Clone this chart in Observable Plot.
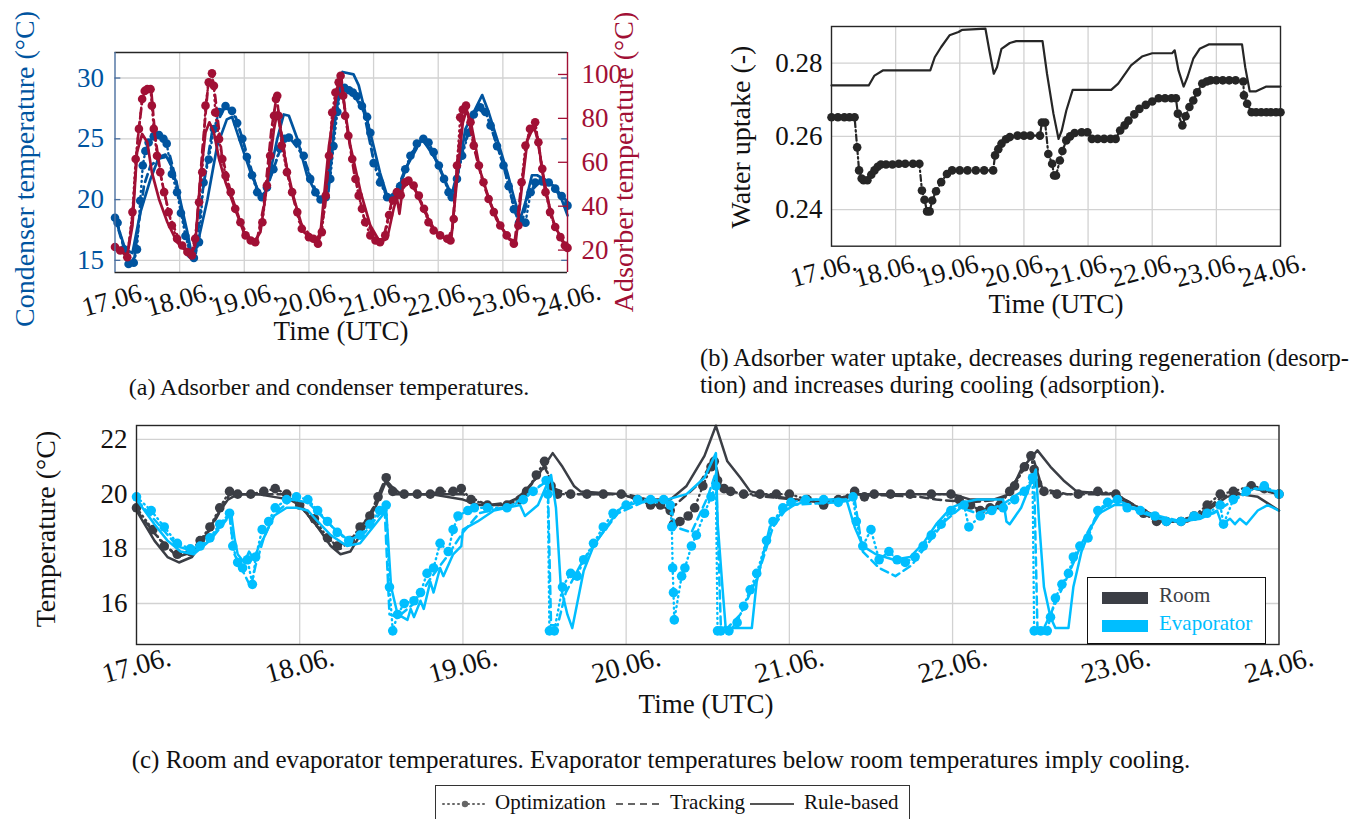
<!DOCTYPE html>
<html>
<head>
<meta charset="utf-8">
<script src="https://cdn.jsdelivr.net/npm/d3@7"></script>
<script src="https://cdn.jsdelivr.net/npm/@observablehq/plot@0.6"></script>
<style>
  html, body { margin: 0; padding: 0; background: #fff; }
  #root { position: relative; width: 1360px; height: 819px; overflow: hidden; font-family: "Liberation Serif", "Times New Roman", serif; color: #111; }
  #root div { font-family: "Liberation Serif", "Times New Roman", serif; }
  #root svg text { font-family: "Liberation Serif", "Times New Roman", serif !important; }
  .abs { position: absolute; }
  .vlab { position: absolute; white-space: nowrap; transform: translate(-50%, -50%) rotate(-90deg); font-size: 28px; }
  .hlab { position: absolute; white-space: nowrap; transform: translate(-50%, -50%); font-size: 27px; }
  .cap { position: absolute; white-space: nowrap; font-size: 24px; }
  svg { overflow: visible; }
</style>
</head>
<body>
<div id="root">
  <div id="pa1" class="abs" style="left:0;top:0"></div>
  <div id="pa2" class="abs" style="left:0;top:0"></div>
  <div id="pb" class="abs" style="left:680px;top:0"></div>
  <div id="pc" class="abs" style="left:0;top:400px"></div>

  <div class="vlab" style="left:25px;top:169px;color:#00549F">Condenser temperature (°C)</div>
  <div class="vlab" style="left:624px;top:162px;color:#A11035">Adsorber temperature (°C)</div>
  <div class="hlab" style="left:341px;top:331px">Time (UTC)</div>
  <div class="vlab" style="left:741px;top:137px">Water uptake (-)</div>
  <div class="hlab" style="left:1056px;top:304px">Time (UTC)</div>
  <div class="vlab" style="left:46px;top:529px">Temperature (°C)</div>
  <div class="hlab" style="left:706px;top:704px">Time (UTC)</div>

  <div class="cap" style="left:329px;top:387px;transform:translate(-50%,-50%)">(a) Adsorber and condenser temperatures.</div>
  <div class="cap" style="left:700px;top:344px;width:646px;font-size:24.5px;text-align:justify;text-align-last:justify">(b) Adsorber water uptake, decreases during regeneration (desorp-</div>
  <div class="cap" style="left:700px;top:371px;font-size:24.5px">tion) and increases during cooling (adsorption).</div>
  <div class="cap" style="left:661px;top:760px;font-size:25px;transform:translate(-50%,-50%)">(c) Room and evaporator temperatures. Evaporator temperatures below room temperatures imply cooling.</div>

  <div class="abs" style="left:1087px;top:577px;width:179px;height:67px;background:#fff;border:1.5px solid #111;box-sizing:border-box;font-size:21px">
    <div class="abs" style="left:14px;top:14px;width:46px;height:12px;background:#3B3E45"></div>
    <div class="abs" style="left:71px;top:5px;color:#3B3E45">Room</div>
    <div class="abs" style="left:14px;top:42px;width:46px;height:12px;background:#00BEFF"></div>
    <div class="abs" style="left:71px;top:33px;color:#00BEFF">Evaporator</div>
  </div>

  <div class="abs" style="left:435px;top:785px;width:475px;height:40px;border:1.5px solid #333;box-sizing:border-box;font-size:21px">
    <svg class="abs" style="left:5px;top:14px" width="48" height="8"><line x1="2" y1="4" x2="46" y2="4" stroke="#666" stroke-width="2" stroke-dasharray="1,4" stroke-linecap="round"/><circle cx="24" cy="4" r="3.2" fill="#666"/></svg>
    <div class="abs" style="left:59px;top:4px">Optimization</div>
    <svg class="abs" style="left:178px;top:14px" width="48" height="8"><line x1="2" y1="4" x2="46" y2="4" stroke="#666" stroke-width="2" stroke-dasharray="7,5"/></svg>
    <div class="abs" style="left:234px;top:4px">Tracking</div>
    <svg class="abs" style="left:312px;top:14px" width="48" height="8"><line x1="2" y1="4" x2="46" y2="4" stroke="#555" stroke-width="2"/></svg>
    <div class="abs" style="left:368px;top:4px">Rule-based</div>
  </div>
</div>
<script>
// ---------- shared ----------
const xTickLabels = ["17.06.", "18.06.", "19.06.", "20.06.", "21.06.", "22.06.", "23.06.", "24.06."];
const dayTicks = [0, 1, 2, 3, 4, 5, 6, 7];
const gridDays = [1, 2, 3, 4, 5, 6];

// ---------- (a) condenser temperature, °C (left axis) ----------
const condTicks = [15, 20, 25, 30];
const condOpt = [[0,18.5],[0.04,18.1],[0.14,15.9],[0.21,14.7],[0.29,14.8],[0.34,15.9],[0.39,19.9],[0.43,22.8],[0.47,24.0],[0.52,24.7],[0.6,25.2],[0.68,25.3],[0.75,25.0],[0.8,24.6],[0.88,22.1],[0.96,20.6],[1.02,18.9],[1.09,17.0],[1.17,15.5],[1.22,15.2],[1.3,16.5],[1.37,21.4],[1.45,23.3],[1.53,25.8],[1.61,27.2],[1.71,27.7],[1.81,27.3],[1.89,26.3],[1.97,25.0],[2.04,23.5],[2.12,22.0],[2.2,20.6],[2.27,20.2],[2.35,21.0],[2.45,22.5],[2.55,24.2],[2.62,25.0],[2.69,25.1],[2.82,24.7],[2.92,23.6],[3.02,21.7],[3.1,20.6],[3.18,20.0],[3.26,20.2],[3.33,21.7],[3.38,24.4],[3.44,27.2],[3.49,29.0],[3.55,29.2],[3.62,29.0],[3.68,28.8],[3.74,28.5],[3.82,27.7],[3.9,26.8],[3.95,25.5],[4.0,23.0],[4.1,21.4],[4.21,20.2],[4.31,20.2],[4.41,21.1],[4.49,22.5],[4.57,23.6],[4.67,24.6],[4.77,25.0],[4.85,24.7],[4.93,23.9],[5.01,22.8],[5.09,21.7],[5.16,20.6],[5.21,20.2],[5.29,21.7],[5.37,23.6],[5.47,25.5],[5.55,27.0],[5.65,27.6],[5.73,27.2],[5.81,26.1],[5.91,24.4],[6.01,22.8],[6.09,21.1],[6.17,19.2],[6.25,18.1],[6.35,18.1],[6.43,20.6],[6.5,21.4],[6.61,21.5],[6.71,21.4],[6.81,20.9],[6.91,20.3],[7.0,19.5]];
const condTrack = [[0,18.5],[0.2,14.9],[0.3,15.2],[0.38,18.5],[0.45,21.2],[0.55,22.8],[0.7,23.4],[0.85,23.6],[0.95,21.5],[1.05,18.5],[1.17,15.4],[1.25,15.6],[1.35,20.5],[1.5,25.5],[1.7,27.6],[1.85,27.1],[2.0,24.5],[2.2,20.8],[2.3,20.2],[2.45,22.5],[2.6,24.8],[2.7,25.1],[2.9,23.7],[3.1,20.8],[3.22,20.0],[3.3,20.5],[3.4,26.5],[3.5,29.5],[3.6,29.0],[3.7,28.6],[3.85,27.2],[4.0,23.2],[4.2,20.3],[4.3,20.1],[4.5,22.6],[4.75,25.0],[5.0,23.0],[5.2,20.2],[5.4,24.5],[5.6,27.5],[5.75,27.0],[6.0,23.0],[6.2,18.8],[6.3,18.2],[6.4,20.5],[6.6,21.6],[6.8,21.0],[7.0,19.8]];
const condRule = [[0,18.5],[0.16,15.9],[0.27,15.6],[0.39,18.9],[0.55,21.7],[0.68,23.5],[0.78,23.7],[0.87,22.8],[0.96,21.1],[1.12,17.3],[1.19,15.4],[1.27,16.2],[1.43,20.0],[1.58,24.4],[1.73,26.6],[1.81,26.8],[1.94,24.7],[2.1,22.2],[2.25,20.3],[2.3,20.0],[2.4,22.2],[2.51,25.0],[2.61,27.0],[2.69,26.9],[2.82,25.0],[2.97,22.0],[3.13,20.3],[3.23,19.8],[3.35,23.5],[3.45,29.0],[3.52,30.5],[3.69,30.3],[3.77,29.4],[3.87,27.2],[4.0,24.4],[4.1,22.2],[4.21,20.3],[4.31,20.0],[4.45,21.8],[4.6,23.9],[4.75,24.9],[4.9,24.0],[5.05,22.2],[5.24,20.0],[5.42,25.8],[5.68,28.6],[5.78,27.2],[5.91,25.0],[6.07,22.2],[6.19,19.8],[6.27,18.4],[6.35,19.8],[6.45,22.0],[6.53,22.0],[6.63,21.7],[6.79,21.1],[6.91,20.0],[7.0,18.7]];

// ---------- (a) adsorber temperature, °C (right axis) ----------
const adsTicks = [20, 40, 60, 80, 100];
const adsOpt = [[0,21.4],[0.08,19.8],[0.19,16.8],[0.27,37.3],[0.32,61.5],[0.37,75.2],[0.42,88.8],[0.46,92.5],[0.5,93.3],[0.55,93.3],[0.57,85.8],[0.6,75.2],[0.65,63.0],[0.7,55.5],[0.76,46.4],[0.83,37.3],[0.88,31.2],[0.96,25.2],[1.04,22.1],[1.12,19.1],[1.19,17.6],[1.24,25.2],[1.3,41.8],[1.35,55.5],[1.4,85.8],[1.45,96.4],[1.5,100.5],[1.53,94.8],[1.55,82.7],[1.61,70.6],[1.66,61.5],[1.71,53.9],[1.79,46.4],[1.86,38.8],[1.94,32.7],[2.02,26.7],[2.1,24.4],[2.17,23.6],[2.28,32.7],[2.35,49.4],[2.4,63.0],[2.46,81.2],[2.49,88.8],[2.51,90.3],[2.53,81.2],[2.58,67.6],[2.66,55.5],[2.74,46.4],[2.82,37.3],[2.89,29.7],[3.0,25.9],[3.07,25.2],[3.14,22.9],[3.2,28.2],[3.26,44.8],[3.31,63.0],[3.36,82.7],[3.41,91.8],[3.46,96.4],[3.49,99.4],[3.53,90.3],[3.56,81.2],[3.61,72.1],[3.67,61.5],[3.72,52.4],[3.77,44.8],[3.82,38.8],[3.87,32.7],[3.95,26.7],[4.03,24.4],[4.1,23.6],[4.18,26.7],[4.24,36.0],[4.3,42.6],[4.36,46.4],[4.42,45.0],[4.49,50.9],[4.54,51.7],[4.62,49.4],[4.7,44.8],[4.78,38.8],[4.85,32.7],[4.93,28.9],[5.03,26.7],[5.14,25.2],[5.19,24.4],[5.24,34.2],[5.29,58.5],[5.34,80.5],[5.38,84.0],[5.43,85.8],[5.5,78.2],[5.55,67.6],[5.63,58.5],[5.7,50.9],[5.78,43.3],[5.86,37.3],[5.96,31.2],[6.06,26.7],[6.17,22.9],[6.24,31.2],[6.29,50.9],[6.35,67.6],[6.42,75.2],[6.5,78.2],[6.55,69.1],[6.61,57.0],[6.66,46.4],[6.73,37.3],[6.81,30.5],[6.89,25.9],[6.96,22.1],[7.0,21.0]];
const adsTrack = [[0,21.4],[0.19,17.0],[0.27,35],[0.35,70],[0.42,88],[0.5,94],[0.56,93],[0.62,72],[0.72,52],[0.85,35],[1.0,24],[1.18,17.5],[1.26,30],[1.35,65],[1.44,95],[1.5,101],[1.55,90],[1.65,64],[1.8,45],[1.95,32],[2.1,24.5],[2.2,25],[2.3,40],[2.42,75],[2.5,90],[2.55,78],[2.68,53],[2.85,33],[3.05,25.5],[3.15,23.5],[3.25,40],[3.36,80],[3.46,97],[3.5,99],[3.58,78],[3.7,55],[3.85,35],[4.05,24.5],[4.15,25],[4.28,42],[4.38,46],[4.5,51],[4.62,49],[4.78,39],[4.95,28.5],[5.15,25],[5.22,30],[5.3,62],[5.38,83],[5.44,85],[5.55,67],[5.7,50],[5.9,34],[6.1,25],[6.18,23],[6.28,48],[6.38,71],[6.5,78],[6.6,58],[6.75,35],[6.95,22]];
const adsRule = [[0,21.4],[0.19,17.6],[0.27,31.2],[0.34,64.5],[0.42,72.9],[0.5,69.1],[0.57,55.5],[0.68,43.3],[0.81,32.7],[0.96,23.6],[1.17,17.6],[1.24,22.1],[1.32,52.4],[1.4,73.6],[1.46,78.2],[1.53,73.6],[1.61,61.5],[1.71,50.9],[1.84,40.3],[1.99,28.2],[2.15,23.6],[2.25,28.2],[2.35,49.4],[2.46,75.2],[2.51,82.7],[2.56,75.2],[2.64,60.0],[2.77,43.3],[2.92,28.2],[3.1,23.6],[3.18,28.2],[3.31,67.6],[3.44,93.3],[3.49,97.9],[3.54,87.3],[3.64,67.6],[3.8,46.4],[3.95,31.2],[4.1,23.6],[4.21,25.2],[4.31,38.8],[4.36,44.0],[4.4,36.5],[4.45,48.0],[4.54,51.0],[4.65,47.0],[4.8,37.0],[4.95,28.5],[5.1,25.5],[5.2,24.5],[5.3,55.0],[5.38,78.0],[5.44,84.0],[5.52,76.0],[5.65,56.0],[5.8,42.0],[5.95,31.5],[6.1,25.0],[6.2,24.0],[6.28,45.0],[6.38,70.0],[6.48,76.5],[6.55,69.0],[6.65,48.0],[6.8,31.0],[7.0,20.5]];

// ---------- (b) water uptake, - ----------
const uptakeTicks = [0.24, 0.26, 0.28];
const uptakeOpt = [[0,0.2652],[0.1,0.2652],[0.2,0.2652],[0.28,0.2652],[0.36,0.2652],[0.4,0.257],[0.43,0.2507],[0.47,0.2485],[0.5,0.248],[0.56,0.248],[0.62,0.2495],[0.67,0.2507],[0.72,0.2517],[0.77,0.2523],[0.85,0.2523],[0.95,0.2523],[1.05,0.2525],[1.15,0.2525],[1.27,0.2525],[1.37,0.2525],[1.41,0.2452],[1.45,0.2427],[1.49,0.2395],[1.53,0.2395],[1.57,0.2425],[1.63,0.245],[1.71,0.2475],[1.8,0.2497],[1.88,0.2507],[2.0,0.2507],[2.12,0.2507],[2.25,0.2507],[2.38,0.2507],[2.52,0.2507],[2.55,0.2548],[2.6,0.2565],[2.65,0.258],[2.72,0.2592],[2.78,0.2598],[2.9,0.2602],[3.0,0.2602],[3.1,0.2602],[3.25,0.2602],[3.28,0.2638],[3.33,0.2638],[3.38,0.2552],[3.44,0.2525],[3.47,0.2493],[3.5,0.2493],[3.56,0.2534],[3.6,0.256],[3.66,0.2589],[3.72,0.26],[3.79,0.2609],[3.9,0.2611],[3.99,0.2611],[4.06,0.2593],[4.15,0.2593],[4.25,0.2593],[4.35,0.2593],[4.43,0.2593],[4.5,0.2616],[4.57,0.263],[4.63,0.2643],[4.72,0.266],[4.8,0.2675],[4.9,0.2686],[5.0,0.2695],[5.1,0.2704],[5.2,0.2704],[5.3,0.2704],[5.37,0.2704],[5.4,0.2662],[5.47,0.263],[5.52,0.2655],[5.58,0.268],[5.64,0.2698],[5.7,0.272],[5.78,0.2744],[5.85,0.275],[5.91,0.2753],[6.0,0.2753],[6.1,0.2753],[6.2,0.2753],[6.3,0.2753],[6.42,0.275],[6.43,0.2712],[6.48,0.2689],[6.55,0.2666],[6.62,0.2666],[6.7,0.2666],[6.78,0.2666],[6.85,0.2666],[6.93,0.2666],[7.0,0.2666]];
const uptakeRule = [[0,0.2739],[0.58,0.2739],[0.67,0.2766],[0.8,0.278],[1.54,0.278],[1.61,0.2816],[1.71,0.2844],[1.84,0.2876],[1.98,0.2885],[2.04,0.2891],[2.4,0.2894],[2.46,0.2835],[2.53,0.2771],[2.58,0.2789],[2.65,0.2839],[2.78,0.2855],[2.88,0.286],[3.29,0.286],[3.36,0.2771],[3.46,0.2662],[3.54,0.2593],[3.59,0.2616],[3.66,0.267],[3.76,0.2727],[4.36,0.2727],[4.47,0.2744],[4.67,0.2794],[4.84,0.2818],[5.0,0.2827],[5.31,0.2827],[5.35,0.2835],[5.41,0.278],[5.49,0.2736],[5.55,0.2762],[5.64,0.2812],[5.74,0.2839],[5.88,0.2851],[6.4,0.2851],[6.45,0.2789],[6.52,0.2723],[6.62,0.2723],[6.78,0.2736],[7,0.2736]];

// ---------- (c) room and evaporator temperature, °C ----------
const tempTicks = [16, 18, 20, 22];
const roomOpt = [[0,19.5],[0.1,18.7],[0.17,18.1],[0.25,17.8],[0.33,17.9],[0.39,18.3],[0.45,18.8],[0.51,19.5],[0.57,20.1],[0.62,20.0],[0.7,20.0],[0.78,20.1],[0.85,20.2],[0.92,20.0],[1.0,19.6],[1.09,19.1],[1.17,18.4],[1.23,18.1],[1.31,18.3],[1.37,18.8],[1.43,19.2],[1.48,19.9],[1.53,20.6],[1.57,20.1],[1.64,20.0],[1.72,20.0],[1.8,20.0],[1.86,20.1],[1.94,20.1],[1.99,20.2],[2.05,19.8],[2.15,19.6],[2.27,19.6],[2.35,19.8],[2.39,20.1],[2.45,20.7],[2.5,21.2],[2.54,20.3],[2.58,20.0],[2.66,20.0],[2.76,20.0],[2.86,20.0],[2.97,20.0],[3.07,19.8],[3.15,19.6],[3.21,19.6],[3.27,19.4],[3.29,18.9],[3.33,19.0],[3.38,19.2],[3.42,19.5],[3.47,20.3],[3.52,21.0],[3.54,21.2],[3.56,20.5],[3.6,20.2],[3.64,20.1],[3.72,20.0],[3.82,20.0],[3.92,20.0],[4.0,20.0],[4.11,19.8],[4.21,19.6],[4.3,19.8],[4.4,20.1],[4.46,19.9],[4.52,20.0],[4.62,20.0],[4.74,20.0],[4.87,20.0],[4.99,20.0],[5.04,19.8],[5.11,19.6],[5.17,19.4],[5.23,19.5],[5.29,19.6],[5.35,20.1],[5.38,20.3],[5.44,21.0],[5.48,21.4],[5.5,20.9],[5.52,20.4],[5.56,20.1],[5.64,20.0],[5.77,20.0],[5.89,20.1],[6.0,20.0],[6.07,19.6],[6.17,19.3],[6.25,19.0],[6.31,19.0],[6.4,19.0],[6.48,19.2],[6.56,19.6],[6.64,20.0],[6.72,20.1],[6.83,20.3],[6.91,20.2],[7.0,20.0]];
const roomTrack = [[0,19.4],[0.12,18.5],[0.25,17.7],[0.35,17.9],[0.45,18.7],[0.57,20.0],[0.75,20.0],[0.9,20.0],[1.0,19.6],[1.15,18.5],[1.25,18.0],[1.35,18.5],[1.45,19.5],[1.52,20.5],[1.58,20.0],[2.0,20.0],[2.15,19.6],[2.3,19.7],[2.4,20.2],[2.5,21.0],[2.56,20.2],[2.65,20.0],[3.0,20.0],[3.2,19.7],[3.3,19.6],[3.45,20.4],[3.54,21.3],[3.58,20.3],[3.7,20.0],[4.2,19.7],[4.4,20.0],[4.8,19.9],[4.9,19.8],[5.1,19.7],[5.3,19.8],[5.45,21.0],[5.5,21.2],[5.55,20.2],[5.7,20.0],[6.0,20.0],[6.2,19.3],[6.35,19.0],[6.5,19.2],[6.65,19.9],[6.85,20.2],[7.0,20.0]];
const roomRule = [[0,19.4],[0.11,18.3],[0.19,17.7],[0.26,17.5],[0.34,17.7],[0.41,18.3],[0.49,19.2],[0.56,19.8],[0.62,20.0],[0.74,20.0],[0.84,19.9],[0.94,19.8],[1.0,19.6],[1.11,18.8],[1.19,18.1],[1.25,17.8],[1.31,17.9],[1.39,18.7],[1.47,19.6],[1.53,20.5],[1.56,20.3],[1.62,20.0],[1.8,20.0],[2.0,19.8],[2.1,19.6],[2.24,19.6],[2.35,19.9],[2.45,20.6],[2.55,21.5],[2.61,21.0],[2.68,20.3],[2.72,20.1],[2.97,20.0],[3.07,19.8],[3.27,19.8],[3.37,20.3],[3.48,21.4],[3.55,22.5],[3.62,21.2],[3.7,20.6],[3.76,20.1],[3.84,20.0],[4.03,19.8],[4.21,19.7],[4.33,19.8],[4.4,20.0],[5.0,20.0],[5.11,19.8],[5.25,19.8],[5.35,20.0],[5.42,20.9],[5.52,21.6],[5.6,21.0],[5.68,20.5],[5.76,20.1],[6.0,20.0],[6.11,19.6],[6.21,19.3],[6.31,19.0],[6.44,19.0],[6.56,19.4],[6.68,19.9],[6.76,20.0],[6.87,19.9],[7.0,19.4]];
const evapOpt = [[0,19.9],[0.09,19.4],[0.17,18.8],[0.25,18.2],[0.33,18.0],[0.39,18.1],[0.45,18.4],[0.51,18.9],[0.57,19.3],[0.59,18.1],[0.62,17.5],[0.65,17.3],[0.68,17.6],[0.71,16.7],[0.73,17.7],[0.77,18.7],[0.81,19.0],[0.85,19.5],[0.92,19.8],[0.98,19.9],[1.05,19.8],[1.11,19.4],[1.17,19.0],[1.23,18.6],[1.3,18.3],[1.37,18.5],[1.43,18.9],[1.49,19.4],[1.53,19.6],[1.55,16.6],[1.57,15.0],[1.6,15.6],[1.64,16.0],[1.7,16.1],[1.74,16.4],[1.78,17.1],[1.82,17.3],[1.86,18.2],[1.91,17.9],[1.94,18.7],[1.97,19.2],[2.03,19.4],[2.07,19.5],[2.15,19.5],[2.27,19.5],[2.37,19.8],[2.43,20.1],[2.51,20.5],[2.52,20.0],[2.53,15.0],[2.56,15.0],[2.61,16.6],[2.66,17.1],[2.7,17.0],[2.74,17.6],[2.8,18.2],[2.86,18.8],[2.92,19.3],[3.0,19.6],[3.07,19.8],[3.15,19.8],[3.23,19.8],[3.27,19.6],[3.28,18.8],[3.285,17.3],[3.29,16.4],[3.295,15.4],[3.34,17.0],[3.36,17.3],[3.4,18.1],[3.43,18.5],[3.48,19.3],[3.52,19.9],[3.55,20.3],[3.56,15.0],[3.58,15.0],[3.63,15.0],[3.68,15.3],[3.72,15.9],[3.76,16.5],[3.8,17.1],[3.86,18.3],[3.9,19.0],[3.96,19.5],[4.01,19.7],[4.1,19.8],[4.21,19.8],[4.3,19.7],[4.39,19.9],[4.41,19.0],[4.45,18.1],[4.5,18.7],[4.55,17.6],[4.61,17.9],[4.66,17.6],[4.71,17.5],[4.77,17.7],[4.82,18.1],[4.87,18.5],[4.93,18.9],[4.99,19.4],[5.07,19.6],[5.1,18.8],[5.17,19.2],[5.24,19.4],[5.31,19.5],[5.38,19.8],[5.44,20.1],[5.49,20.6],[5.5,15.0],[5.54,15.0],[5.58,15.0],[5.6,15.5],[5.63,16.2],[5.67,16.7],[5.71,17.1],[5.74,17.7],[5.78,18.1],[5.83,18.4],[5.89,19.4],[5.95,19.7],[6.01,19.8],[6.07,19.5],[6.15,19.4],[6.24,19.2],[6.31,19.0],[6.4,19.0],[6.48,19.2],[6.56,19.3],[6.64,19.6],[6.66,18.9],[6.72,19.8],[6.8,20.1],[6.91,20.3],[7.0,20.0]];
const evapTrack = [[0,19.8],[0.12,19.0],[0.25,18.1],[0.35,17.9],[0.45,18.3],[0.57,19.2],[0.6,17.8],[0.65,17.2],[0.7,16.6],[0.73,17.4],[0.78,18.4],[0.85,19.3],[0.95,19.8],[1.05,19.7],[1.2,18.8],[1.3,18.3],[1.4,18.6],[1.52,19.5],[1.55,15.6],[1.6,15.5],[1.7,16.0],[1.8,16.9],[1.9,17.7],[2.0,18.6],[2.1,19.3],[2.3,19.6],[2.45,20.2],[2.52,20.5],[2.54,15.2],[2.58,15.2],[2.63,16.4],[2.72,17.4],[2.82,18.3],[2.95,19.3],[3.1,19.7],[3.27,19.7],[3.3,18.8],[3.4,18.6],[3.5,19.9],[3.55,20.8],[3.58,15.2],[3.62,15.1],[3.7,15.6],[3.8,16.9],[3.9,18.8],[4.0,19.6],[4.3,19.7],[4.4,19.8],[4.45,17.9],[4.55,17.3],[4.65,17.0],[4.75,17.4],[4.85,18.2],[4.95,19.0],[5.05,19.5],[5.15,19.3],[5.3,19.6],[5.45,20.2],[5.5,20.5],[5.52,15.1],[5.56,15.1],[5.63,16.0],[5.72,17.2],[5.8,18.3],[5.9,19.4],[6.0,19.8],[6.2,19.3],[6.4,19.0],[6.6,19.3],[6.7,19.7],[6.85,20.2],[7.0,20.1]];
const evapRule = [[0,19.8],[0.11,18.9],[0.19,18.3],[0.27,17.9],[0.35,17.8],[0.43,18.2],[0.51,18.8],[0.58,19.3],[0.6,18.4],[0.62,17.8],[0.66,17.5],[0.69,17.9],[0.72,17.6],[0.75,18.1],[0.78,18.4],[0.84,19.2],[0.92,19.5],[0.98,19.5],[1.05,19.4],[1.11,19.0],[1.19,18.5],[1.29,18.1],[1.37,18.2],[1.45,18.8],[1.53,19.4],[1.56,16.6],[1.6,15.6],[1.66,15.4],[1.68,15.8],[1.7,15.5],[1.74,16.1],[1.76,15.8],[1.8,16.8],[1.82,16.4],[1.86,17.3],[1.88,17.0],[1.94,17.8],[1.99,18.1],[2.0,18.7],[2.09,19.0],[2.19,19.4],[2.27,19.5],[2.35,19.6],[2.38,19.2],[2.46,19.6],[2.54,20.7],[2.57,19.5],[2.6,16.6],[2.64,15.6],[2.67,15.1],[2.7,16.0],[2.74,17.2],[2.8,18.1],[2.89,18.9],[2.97,19.5],[3.07,19.7],[3.25,19.8],[3.37,20.0],[3.48,20.6],[3.55,21.5],[3.56,19.0],[3.59,16.6],[3.61,15.1],[3.77,15.1],[3.8,16.8],[3.84,17.8],[3.88,18.8],[3.95,19.3],[4.03,19.6],[4.13,19.8],[4.35,19.8],[4.4,18.8],[4.45,18.1],[4.53,17.8],[4.64,17.6],[4.74,17.7],[4.82,18.2],[4.9,18.9],[4.99,19.5],[5.07,19.7],[5.15,19.8],[5.31,19.8],[5.33,19.0],[5.35,18.9],[5.42,19.5],[5.48,20.4],[5.51,20.9],[5.53,19.0],[5.56,16.6],[5.6,15.5],[5.63,15.1],[5.71,15.1],[5.74,16.6],[5.79,17.9],[5.85,18.8],[5.9,19.3],[5.99,19.6],[6.07,19.6],[6.17,19.3],[6.27,19.1],[6.4,19.0],[6.52,19.1],[6.62,19.4],[6.65,18.9],[6.7,19.1],[6.73,18.9],[6.76,19.1],[6.8,18.9],[6.87,19.4],[6.93,19.6],[7.0,19.4]];

// ---------- styling ----------
const BLUE = "#00549F", RED = "#A11035", DARK = "#3B3E45", CYAN = "#00BEFF", INK = "#262626", GRID = "#d2d2d2";
const SERIF = "Liberation Serif";
const X = d => d[0], Y = d => d[1];

function optMarks(data, color, sw, r) {
  return [
    Plot.line(data, {x: X, y: Y, stroke: color, strokeWidth: sw, strokeDasharray: "1,4", strokeLinecap: "round"}),
    Plot.dot(data, {x: X, y: Y, r: r, fill: color, stroke: "none"})
  ];
}
function trackMarks(data, color, sw) {
  return [Plot.line(data, {x: X, y: Y, stroke: color, strokeWidth: sw, strokeDasharray: "8,5"})];
}
function ruleMarks(data, color, sw) {
  return [Plot.line(data, {x: X, y: Y, stroke: color, strokeWidth: sw, strokeLinejoin: "round"})];
}
function xLabels(dy, dx, fs) {
  return Plot.text(dayTicks, {x: d => d, text: d => xTickLabels[d], frameAnchor: "bottom", dy: dy, dx: dx,
    rotate: -15, fontSize: fs, fontFamily: SERIF, fill: "#111", textAnchor: "middle", lineAnchor: "middle"});
}
function styleStr(color, bg) {
  return `font-family: 'Liberation Serif', serif; font-size: 27px; overflow: visible; color: ${color}; background: ${bg};`;
}

// ---------- panel (a): condenser ----------
const pa1 = Plot.plot({
  width: 680, height: 345, marginLeft: 114.5, marginRight: 113, marginTop: 52, marginBottom: 73,
  x: {domain: [0, 7], axis: null},
  y: {domain: [14, 32.1], ticks: condTicks, tickSize: 0, tickPadding: 11, label: null},
  style: styleStr(BLUE, "white"),
  marks: [
    Plot.ruleX(gridDays, {stroke: GRID, strokeWidth: 1.3}),
    Plot.ruleY(condTicks, {stroke: GRID, strokeWidth: 1.3}),
    Plot.ruleY(condTicks, {x1: 0, x2: 0.09, stroke: "#4a6fa0", strokeWidth: 1.3}),
    Plot.ruleY(condTicks, {x1: 6.91, x2: 7, stroke: "#4a6fa0", strokeWidth: 1.3}),
    ...trackMarks(condTrack, BLUE, 2.7),
    ...ruleMarks(condRule, BLUE, 2.7),
    ...optMarks(condOpt, BLUE, 2.4, 4.3),
    xLabels(27, 0, 27)
  ]
});
document.getElementById("pa1").appendChild(pa1);

// ---------- panel (a): adsorber (right axis) ----------
const pa2 = Plot.plot({
  width: 680, height: 345, marginLeft: 114.5, marginRight: 113, marginTop: 52, marginBottom: 73,
  x: {domain: [0, 7], axis: null},
  y: {domain: [9.8, 110], ticks: adsTicks, axis: "right", tickSize: 0, tickPadding: 14, label: null},
  style: styleStr(RED, "transparent"),
  marks: [
    Plot.ruleY(adsTicks, {x1: 6.86, x2: 7, stroke: RED, strokeWidth: 1.3}),
    ...trackMarks(adsTrack, RED, 2.7),
    ...ruleMarks(adsRule, RED, 2.7),
    ...optMarks(adsOpt, RED, 2.4, 4.3),
    Plot.ruleY([9.8, 110], {stroke: INK, strokeWidth: 1.4}),
    Plot.ruleX([0], {stroke: "#4a6fa0", strokeWidth: 1.4}),
    Plot.ruleX([7], {stroke: RED, strokeWidth: 1.4})
  ]
});
document.getElementById("pa2").appendChild(pa2);

// ---------- panel (b): water uptake ----------
const pb = Plot.plot({
  width: 680, height: 330, marginLeft: 151, marginRight: 80, marginTop: 26, marginBottom: 84.3,
  x: {domain: [0, 7], axis: null},
  y: {domain: [0.23, 0.29], ticks: uptakeTicks, tickFormat: d3.format(".2f"), tickSize: 0, tickPadding: 9, label: null},
  style: styleStr("#111", "white"),
  marks: [
    Plot.ruleX(gridDays, {stroke: GRID, strokeWidth: 1.3}),
    Plot.ruleY(uptakeTicks, {stroke: GRID, strokeWidth: 1.3}),
    ...ruleMarks(uptakeRule, INK, 2.2),
    Plot.line(uptakeOpt, {x: X, y: Y, stroke: INK, strokeWidth: 2.2, strokeDasharray: "6,3,1.5,3"}),
    Plot.dot(uptakeOpt, {x: X, y: Y, r: 4.3, fill: INK, stroke: "none"}),
    Plot.frame({stroke: INK, strokeWidth: 1.4}),
    xLabels(24, -8, 27)
  ]
});
document.getElementById("pb").appendChild(pb);

// ---------- panel (c): room and evaporator ----------
const pc = Plot.plot({
  width: 1360, height: 330, marginLeft: 136, marginRight: 81.5, marginTop: 25, marginBottom: 86,
  x: {domain: [0, 7], axis: null},
  y: {domain: [14.5, 22.51], ticks: tempTicks, tickSize: 0, tickPadding: 9, label: null},
  style: styleStr("#111", "white"),
  marks: [
    Plot.ruleX(gridDays, {stroke: GRID, strokeWidth: 1.3}),
    Plot.ruleY(tempTicks, {stroke: GRID, strokeWidth: 1.3}),
    ...trackMarks(roomTrack, DARK, 2.5),
    ...ruleMarks(roomRule, DARK, 2.5),
    ...optMarks(roomOpt, DARK, 2.4, 4.8),
    ...trackMarks(evapTrack, CYAN, 2.5),
    ...ruleMarks(evapRule, CYAN, 2.5),
    ...optMarks(evapOpt, CYAN, 2.4, 4.8),
    Plot.frame({stroke: INK, strokeWidth: 1.4}),
    xLabels(21, 0, 28)
  ]
});
document.getElementById("pc").appendChild(pc);
</script>
</body>
</html>
